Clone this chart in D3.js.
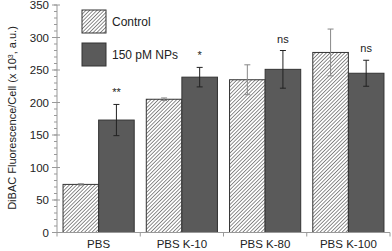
<!DOCTYPE html>
<html>
<head>
<meta charset="utf-8">
<script src="https://cdn.jsdelivr.net/npm/d3@7"></script>
<style>
  body { margin: 0; background: #fff; }
  text { font-family: "Liberation Sans", Arial, sans-serif; }
</style>
</head>
<body>
<svg id="chart" width="392" height="251"></svg>
<script>
// groups and series
var groups = ["PBS", "PBS K-10", "PBS K-80", "PBS K-100"];
var seriesNames = ["Control", "150 pM NPs"];
var controlVals = [74, 205, 235, 277];
var controlErr = [1, 2, 23, 36];
var npVals = [173, 239, 251, 245];
var npErr = [24, 15, 29, 20];
var signif = ["**", "*", "ns", "ns"];
var yTicks = [0, 50, 100, 150, 200, 250, 300, 350];

var svg = d3.select("#chart");

var x0 = d3.scaleBand().domain(groups).range([57, 390]).paddingInner(0.145).paddingOuter(0.0725);
var x1 = d3.scaleBand().domain(seriesNames).range([0, x0.bandwidth()]);
var y = d3.scaleLinear().domain([0, 350]).range([232.5, 5]);

// hatch pattern for control
var defs = svg.append("defs");
var pat = defs.append("pattern")
    .attr("id", "hatch")
    .attr("patternUnits", "userSpaceOnUse")
    .attr("width", 2.6).attr("height", 2.6)
    .attr("patternTransform", "rotate(45)");
pat.append("rect").attr("width", 2.6).attr("height", 2.6).attr("fill", "#fff");
pat.append("line").attr("x1", 0).attr("y1", 0).attr("x2", 0).attr("y2", 2.6)
    .attr("stroke", "#444").attr("stroke-width", 1.2);

var rows = groups.map(function(g, i) {
    return [
        {g: g, s: seriesNames[0], v: controlVals[i], e: controlErr[i]},
        {g: g, s: seriesNames[1], v: npVals[i], e: npErr[i], sig: signif[i]}
    ];
});
var flat = [].concat.apply([], rows);

// bars
svg.selectAll("rect.bar")
    .data(flat)
    .join("rect")
    .attr("class", "bar")
    .attr("x", function(d) { return x0(d.g) + x1(d.s); })
    .attr("y", function(d) { return y(d.v); })
    .attr("width", x1.bandwidth())
    .attr("height", function(d) { return y(0) - y(d.v); })
    .attr("fill", function(d) { return d.s == "Control" ? "url(#hatch)" : "#5a5a5a"; })
    .attr("stroke", "#333")
    .attr("stroke-width", 1);

// error bars
var eb = svg.selectAll("g.err")
    .data(flat)
    .join("g")
    .attr("class", "err")
    .attr("stroke", function(d) { return d.s == "Control" ? "#888" : "#222"; })
    .attr("stroke-width", 1);
eb.append("line")
    .attr("x1", function(d) { return x0(d.g) + x1(d.s) + x1.bandwidth() / 2; })
    .attr("x2", function(d) { return x0(d.g) + x1(d.s) + x1.bandwidth() / 2; })
    .attr("y1", function(d) { return y(d.v - d.e); })
    .attr("y2", function(d) { return y(d.v + d.e); });
eb.selectAll("line.cap")
    .data(function(d) { return [d.v - d.e, d.v + d.e].map(function(v) { return {d: d, v: v}; }); })
    .join("line")
    .attr("class", "cap")
    .attr("x1", function(c) { return x0(c.d.g) + x1(c.d.s) + x1.bandwidth() / 2 - 3; })
    .attr("x2", function(c) { return x0(c.d.g) + x1(c.d.s) + x1.bandwidth() / 2 + 3; })
    .attr("y1", function(c) { return y(c.v); })
    .attr("y2", function(c) { return y(c.v); });

// significance marks
svg.selectAll("text.sig")
    .data(flat.filter(function(d) { return d.sig; }))
    .join("text")
    .attr("class", "sig")
    .attr("x", function(d) { return x0(d.g) + x1(d.s) + x1.bandwidth() / 2; })
    .attr("y", function(d) { return y(d.v + d.e) - 8; })
    .attr("text-anchor", "middle")
    .attr("font-size", 11)
    .attr("fill", "#222")
    .text(function(d) { return d.sig; });

// y axis
var yAxis = svg.append("g").attr("transform", "translate(57,0)");
yAxis.append("line").attr("x1", 0).attr("x2", 0).attr("y1", y(350)).attr("y2", y(0))
    .attr("stroke", "#999");
yAxis.selectAll("line.minor")
    .data(d3.range(0, 351, 10))
    .join("line")
    .attr("class", "minor")
    .attr("x1", -3).attr("x2", 0)
    .attr("y1", function(d) { return y(d); })
    .attr("y2", function(d) { return y(d); })
    .attr("stroke", "#999");
yAxis.selectAll("line.major")
    .data(yTicks)
    .join("line")
    .attr("class", "major")
    .attr("x1", -5).attr("x2", 3)
    .attr("y1", function(d) { return y(d); })
    .attr("y2", function(d) { return y(d); })
    .attr("stroke", "#999");
yAxis.selectAll("text")
    .data(yTicks)
    .join("text")
    .attr("x", -8)
    .attr("y", function(d) { return y(d); })
    .attr("dy", "0.35em")
    .attr("text-anchor", "end")
    .attr("font-size", 11.5)
    .attr("fill", "#222")
    .text(function(d) { return d; });

// x axis
var xAxis = svg.append("g").attr("transform", "translate(0," + y(0) + ")");
xAxis.append("line").attr("x1", 57).attr("x2", 390).attr("stroke", "#999");
xAxis.selectAll("line.tick")
    .data(groups.map(function(g) { return x0(g) - x0.step() * x0.paddingInner() / 2; }).concat([390]))
    .join("line")
    .attr("class", "tick")
    .attr("x1", function(d) { return d; }).attr("x2", function(d) { return d; })
    .attr("y1", 0).attr("y2", 4)
    .attr("stroke", "#999");
xAxis.selectAll("text")
    .data(groups)
    .join("text")
    .attr("x", function(d) { return x0(d) + x0.bandwidth() / 2; })
    .attr("y", 15)
    .attr("text-anchor", "middle")
    .attr("font-size", 11.5)
    .attr("fill", "#222")
    .text(function(d) { return d; });

// y label
var yl = svg.append("text")
    .attr("transform", "translate(16,118) rotate(-90)")
    .attr("text-anchor", "middle")
    .attr("font-size", 11)
    .attr("fill", "#222");
yl.append("tspan").text("DiBAC Fluorescence/Cell (x 10");
yl.append("tspan").attr("baseline-shift", "super").attr("font-size", 7).text("3");
yl.append("tspan").text(", a.u.)");

// legend
var leg = svg.selectAll("g.legend")
    .data(seriesNames)
    .join("g")
    .attr("class", "legend")
    .attr("transform", function(d, i) { return "translate(82," + (10 + i * 33) + ")"; });
leg.append("rect")
    .attr("width", 24).attr("height", 23)
    .attr("fill", function(d, i) { return i == 0 ? "url(#hatch)" : "#5a5a5a"; })
    .attr("stroke", "#333");
leg.append("text")
    .attr("x", 30).attr("y", 12)
    .attr("dy", "0.35em")
    .attr("font-size", 12)
    .attr("fill", "#222")
    .text(function(d) { return d; });
</script>
</body>
</html>
